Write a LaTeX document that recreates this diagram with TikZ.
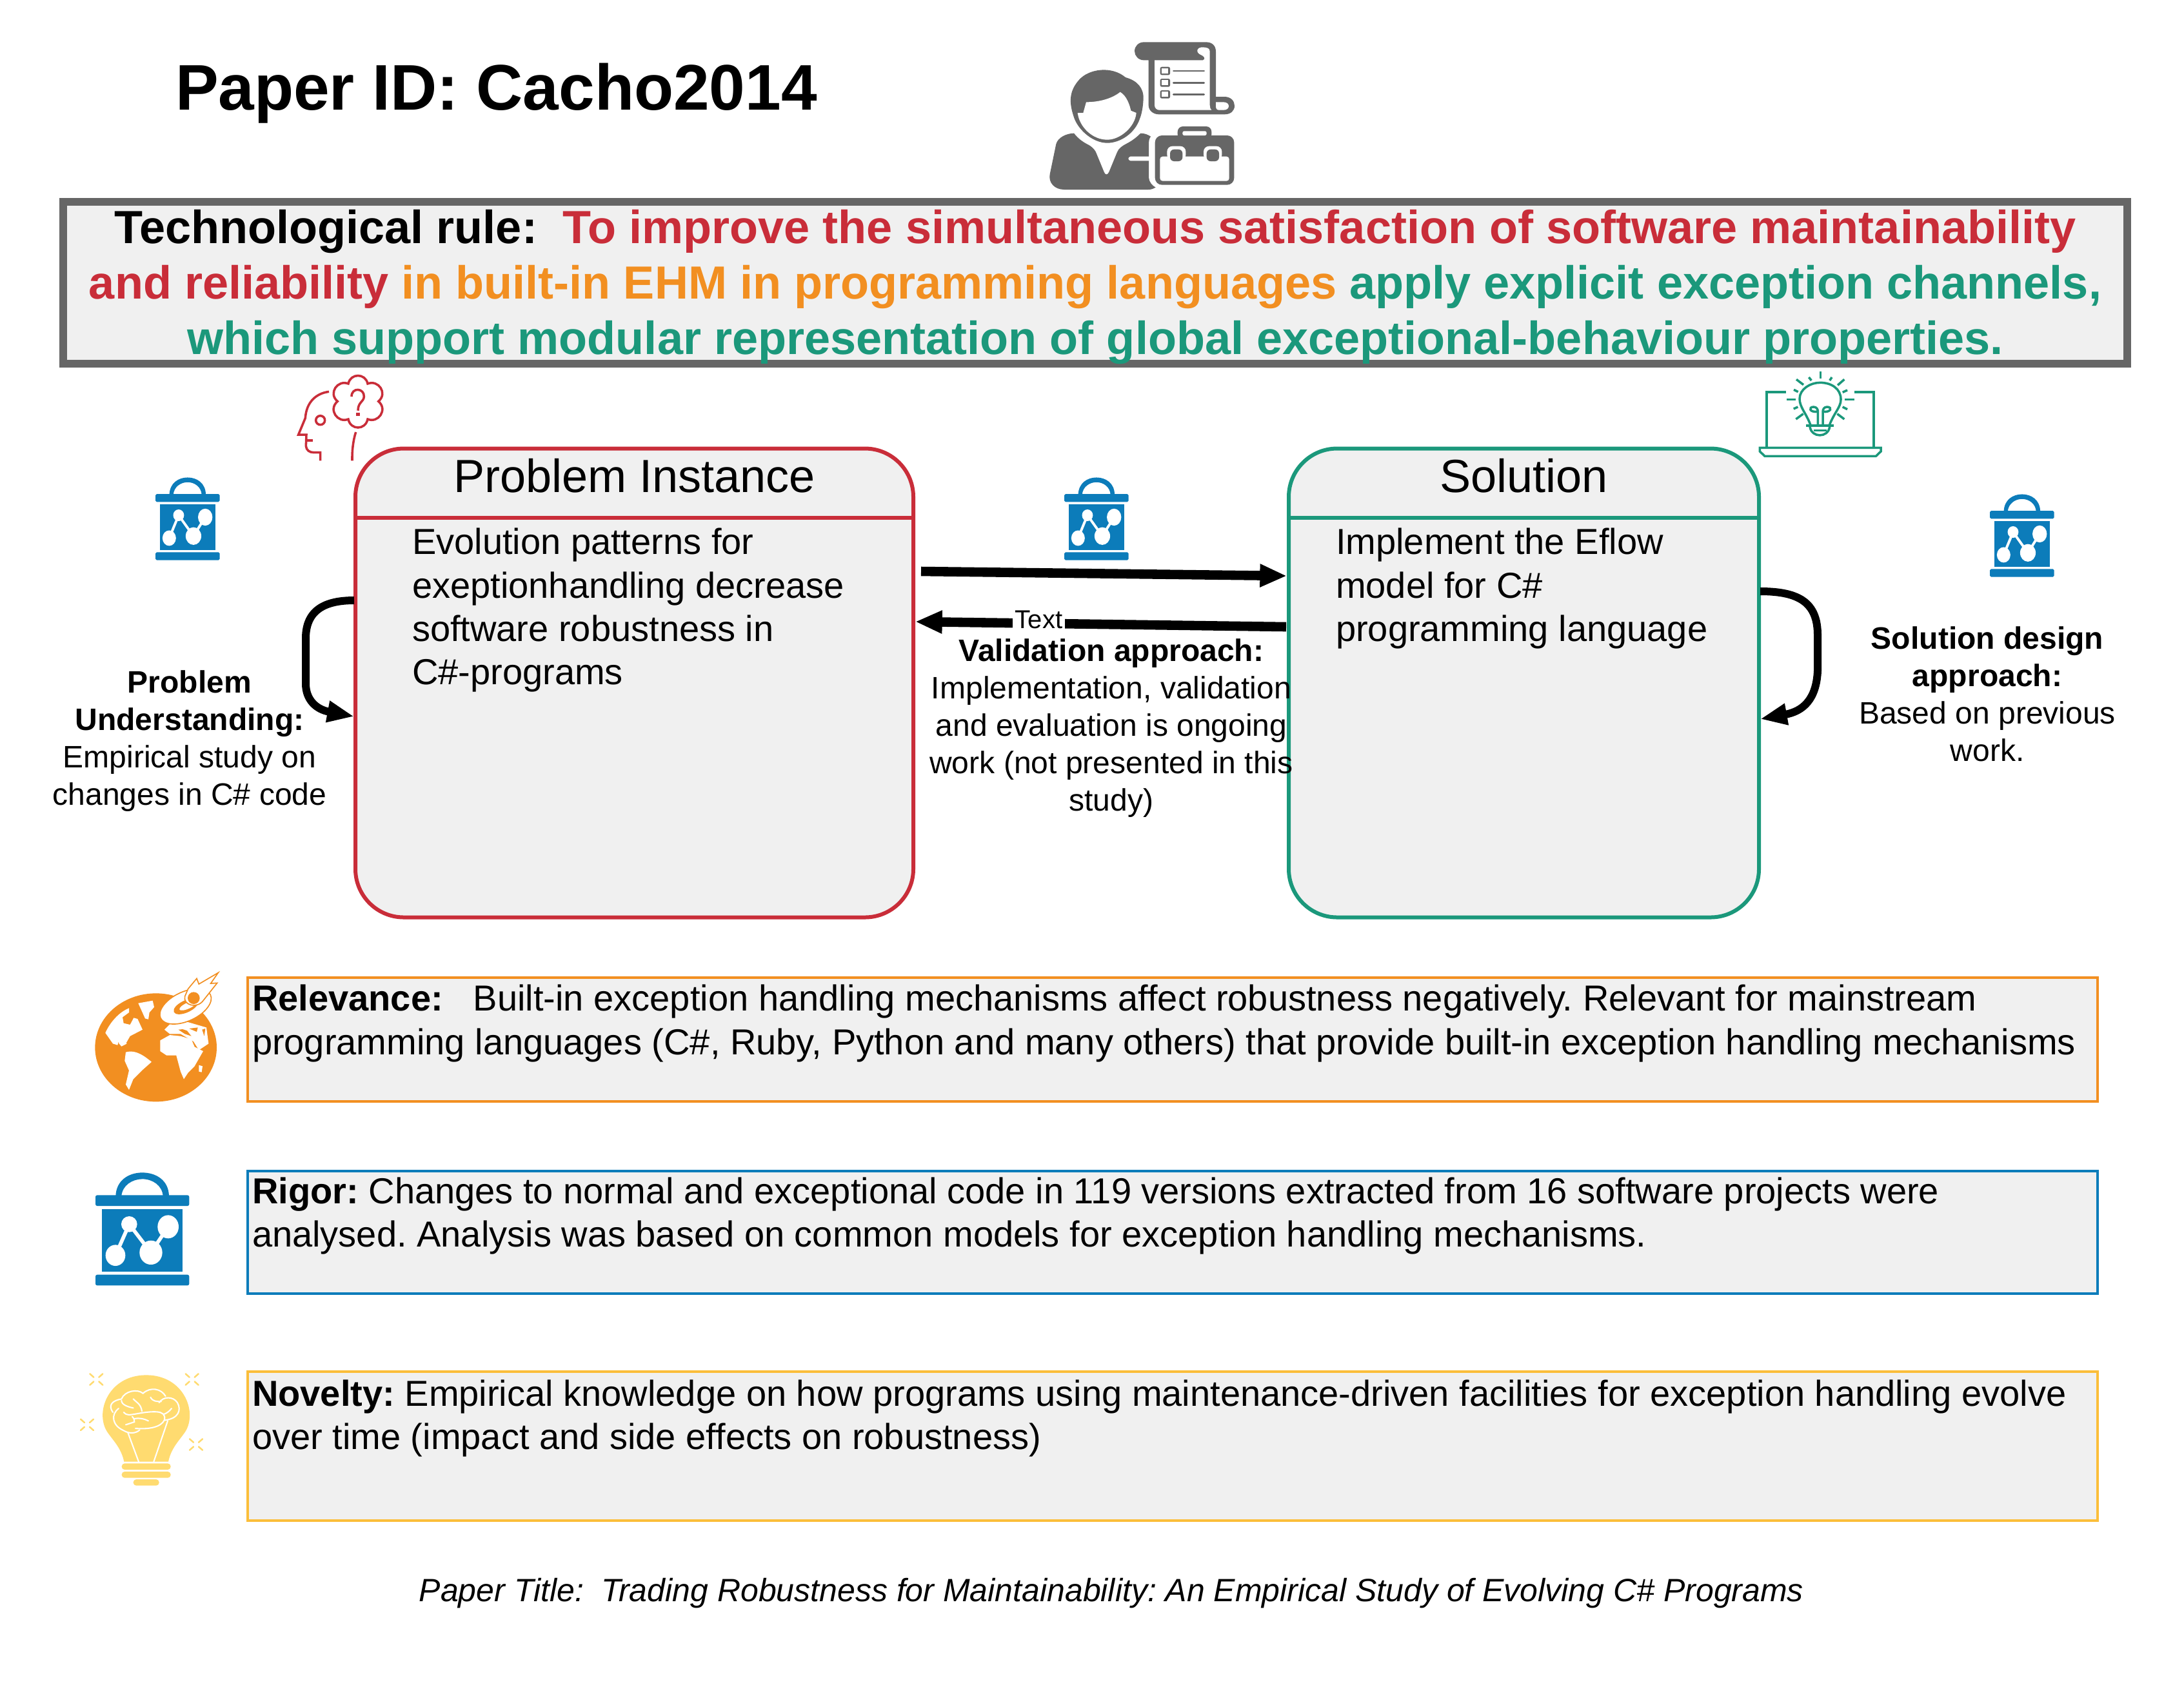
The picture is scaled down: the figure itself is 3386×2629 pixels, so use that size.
\documentclass[tikz,border=0pt]{standalone}
\usepackage{fontspec}
\setmainfont{Liberation Sans}
\usetikzlibrary{arrows.meta}
\frenchspacing
\definecolor{cgray}{HTML}{666666}
\definecolor{cfill}{HTML}{F0F0F0}
\definecolor{cred}{HTML}{C92D39}
\definecolor{cgreen}{HTML}{1B987B}
\definecolor{corange}{HTML}{F28F21}
\definecolor{cblue}{HTML}{0C7CBA}
\definecolor{cgold}{HTML}{FBBE3A}
\definecolor{cyel}{HTML}{FFDB70}
\newcommand{\fsTitle}{\fontsize{24}{27.6}\selectfont}
\newcommand{\fsRule}{\fontsize{17.3}{20.74}\selectfont}
\newcommand{\fsHead}{\fontsize{17.3}{20}\selectfont}
\newcommand{\fsBody}{\fontsize{13.45}{16.1}\selectfont}
\newcommand{\fsLab}{\fontsize{11.53}{13.92}\selectfont}
\newcommand{\fsTiny}{\fontsize{9.6}{11}\selectfont}
\newcommand{\fsPaper}{\fontsize{12}{14}\selectfont}
% research icon: #1,#2 = top-left of the zoom frame, #3,#4 = pt per unit
\newcommand{\researchicon}[4]{%
\begin{scope}[shift={(#1,#2)},x=#3pt,y=-#4pt]
\fill[cblue,rounded corners=8*#3pt] (84,160) rectangle (520,210);
\fill[cblue,rounded corners=8*#3pt] (84,530) rectangle (520,580);
\fill[cblue] (178,165) .. controls (180,90) and (240,55) .. (302,55) .. controls (365,55) and (425,90) .. (426,165) -- (398,165) .. controls (395,115) and (350,85) .. (302,85) .. controls (255,85) and (208,115) .. (205,165) -- cycle;
\fill[cblue] (113,226) rectangle (490,517);
\draw[white,line width=17*#3pt] (177,440) -- (241,295) -- (342,427) -- (422,307);
\fill[white] (177,440) ellipse [x radius=46,y radius=49];
\fill[white] (241,295) ellipse [x radius=37,y radius=37];
\fill[white] (342,427) ellipse [x radius=53,y radius=56];
\fill[white] (422,307) ellipse [x radius=49,y radius=54];
\end{scope}}
\tikzset{
  rulebox/.style={draw=cgray,fill=cfill,line width=2.88pt,minimum width=3200*0.24pt,minimum height=251*0.24pt,inner sep=0pt},
  instbox/.style={fill=cfill,line width=1.44pt,rounded corners=18pt,minimum height=727*0.24pt,inner sep=0pt},
  notebox/.style={fill=cfill,line width=1pt,minimum width=2868*0.24pt,inner sep=0pt},
  txt/.style={inner sep=0pt,outer sep=0pt,text=black},
  bodyL/.style={txt,anchor=north west,align=left,font=\fsBody},
  labC/.style={txt,anchor=north,align=center,font=\fsLab},
  bigarrow/.style={line width=3.5pt,-{Triangle[length=10pt,width=8pt]}},
  looparrow/.style={line width=2.88pt,-{Triangle[length=10pt,width=7.5pt]}},
  iconline/.style={line width=0.85pt},
}
\begin{document}
\begin{tikzpicture}[x=0.24pt,y=-0.24pt]
\fill[white,use as bounding box] (0,0) rectangle (3386,2629);

\node[txt,anchor=base west,font=\fsTitle\bfseries] (title) at (272,170) {Paper ID: Cacho2014};

% person icon
\begin{scope}[shift={(1560,40)},x=0.08pt,y=-0.08pt]
\fill[cgray] (640,76) -- (930,76) .. controls (960,76) and (975,95) .. (975,120) -- (975,330) -- (1015,330) .. controls (1045,330) and (1062,350) .. (1062,372) .. controls (1062,395) and (1045,412) .. (1015,412) -- (710,412) .. controls (685,412) and (662,395) .. (662,370) -- (662,160) -- (640,160) .. controls (615,160) and (597,140) .. (597,118) .. controls (597,95) and (615,76) .. (640,76) -- cycle;
\fill[white] (690,160) -- (915,160) .. controls (930,155) and (920,140) .. (905,135) .. controls (880,125) and (885,98) .. (915,100) .. controls (935,100) and (947,105) .. (947,120) -- (947,370) .. controls (947,380) and (950,388) .. (955,392) -- (712,392) .. controls (700,392) and (690,382) .. (690,370) -- cycle;
\fill[white] (975,355) -- (1010,355) .. controls (1025,355) and (1035,363) .. (1035,373) .. controls (1035,385) and (1025,392) .. (1010,392) -- (990,392) .. controls (980,392) and (975,385) .. (975,375) -- cycle;
\foreach \yy in {210,265,319}{
  \fill[cgray,rounded corners=0.6pt] (716,\yy-19) rectangle (762,\yy+19);
  \fill[white] (724,\yy-12) rectangle (752,\yy+12);
  \draw[cgray,line width=0.7pt,line cap=round] (778,\yy) -- (920,\yy);
}
\fill[cgray] (315,500) .. controls (335,525) and (355,540) .. (385,555) .. controls (405,568) and (415,580) .. (420,595) -- (455,680) .. controls (460,695) and (472,695) .. (478,680) -- (515,590) .. controls (522,570) and (540,558) .. (560,548) .. controls (585,535) and (605,520) .. (625,500) .. controls (645,500) and (660,507) .. (672,515) .. controls (665,525) and (663,535) .. (663,545) -- (663,608) -- (577,608) .. controls (565,610) and (565,626) .. (577,628) -- (663,628) -- (663,705) .. controls (663,725) and (680,745) .. (695,752) .. controls (685,758) and (675,762) .. (660,762) -- (270,762) .. controls (225,762) and (195,730) .. (203,690) -- (232,550) .. controls (240,520) and (280,500) .. (315,500) -- cycle;
\fill[cgray] (470,545) .. controls (400,545) and (330,480) .. (313,420) .. controls (290,350) and (295,300) .. (340,250) .. controls (385,200) and (490,185) .. (555,240) .. controls (610,255) and (640,290) .. (638,340) .. controls (636,380) and (630,410) .. (622,430) .. controls (600,500) and (530,545) .. (470,545) -- cycle;
\fill[white] (332,405) -- (358,405) -- (372,355) .. controls (430,355) and (490,340) .. (530,308) .. controls (560,325) and (575,370) .. (580,395) -- (605,405) .. controls (600,470) and (530,530) .. (470,530) .. controls (400,530) and (340,470) .. (332,405) -- cycle;
\fill[cgray,rounded corners=2.6pt] (692,510) rectangle (1060,740);
\fill[cgray,rounded corners=2pt] (797,468) rectangle (955,530);
\fill[white,rounded corners=0.6pt] (820,490) rectangle (932,510);
\fill[white,rounded corners=1pt] (715,608) -- (1037,608) -- (1037,722) -- (715,722) -- cycle;
\fill[white,rounded corners=2pt] (748,560) rectangle (835,625);
\fill[white,rounded corners=2pt] (918,560) rectangle (1003,625);
\fill[cgray,rounded corners=1.5pt] (762,575) rectangle (820,630);
\fill[cgray,rounded corners=1.5pt] (932,575) rectangle (990,630);
\end{scope}

% technological rule
\node[rulebox] (rule) at (1698,438.5) {};
\node[txt,anchor=north,align=center,font=\fsRule\bfseries] (ruletext) at (1698,316.5)
 {\strut Technological rule:\hspace{0.55em}\textcolor{cred}{To improve the simultaneous satisfaction of software maintainability}\\
  \strut\textcolor{cred}{and reliability} \textcolor{corange}{in built-in EHM in programming languages} \textcolor{cgreen}{apply explicit exception channels,}\\
  \strut\textcolor{cgreen}{which support modular representation of global exceptional-behaviour properties.}};

% thinker icon
\begin{scope}[shift={(420,560)},x=0.08pt,y=-0.08pt,draw=cred,iconline]
\draw (270,142) .. controls (210,150) and (165,190) .. (160,265) -- (128,342) -- (165,342) -- (163,395) .. controls (165,415) and (180,425) .. (200,425) -- (230,425) -- (230,463);
\draw (165,369) -- (195,369);
\draw (230,275) circle [radius=21];
\draw (395,330) .. controls (382,370) and (377,420) .. (378,463);
\draw (360,105) .. controls (370,55) and (440,55) .. (450,105) .. controls (500,85) and (545,150) .. (500,187) .. controls (545,225) and (500,290) .. (450,270) .. controls (440,322) and (370,322) .. (360,270) .. controls (310,290) and (265,225) .. (310,187) .. controls (265,150) and (310,85) .. (360,105) -- cycle;
\draw (375,165) .. controls (375,120) and (435,125) .. (433,165) .. controls (432,190) and (405,190) .. (405,230);
\fill[cred] (397,240) rectangle (413,255);
\end{scope}

% bulb laptop icon
\begin{scope}[shift={(2700,560)},x=0.08pt,y=-0.08pt,draw=cgreen,iconline]
\draw (207,144) -- (117,144) -- (117,403);
\draw (525,144) -- (615,144) -- (615,403);
\draw (85,403) -- (648,403) -- (648,420) -- (625,442) -- (108,442) -- (85,420) -- cycle;
\draw (322,300) .. controls (300,240) and (270,215) .. (270,175) .. controls (270,130) and (320,100) .. (365,100) .. controls (420,100) and (462,130) .. (462,178) .. controls (462,215) and (430,240) .. (408,300);
\draw (300,300) -- (428,300);
\draw (318,305) .. controls (325,358) and (403,358) .. (410,305);
\draw (335,322) -- (395,322);
\draw (355,300) -- (355,235) .. controls (315,240) and (310,213) .. (335,213) .. controls (350,213) and (355,225) .. (355,235);
\draw (378,300) -- (378,235) .. controls (418,240) and (423,213) .. (398,213) .. controls (383,213) and (378,225) .. (378,235);
\foreach \xa/\ya/\xb/\yb in {367/48/367/82,255/85/288/110,478/85/447/112,313/75/325/90,420/75/410/90,243/133/263/143,492/135/470/145,210/178/252/178,480/178/524/178,242/222/262/213,492/224/470/213,253/270/287/245,478/270/445/245}
  \draw (\xa,\ya) -- (\xb,\yb);
\end{scope}

% problem and solution boxes
\node[instbox,draw=cred,minimum width=865*0.24pt] (prob) at (983.5,1059) {};
\node[instbox,draw=cgreen,minimum width=729*0.24pt] (sol) at (2362.5,1059) {};
\draw[cred,line width=1.44pt] (prob.west |- 0,803) -- (prob.east |- 0,803);
\draw[cgreen,line width=1.44pt] (sol.west |- 0,803) -- (sol.east |- 0,803);
\node[txt,font=\fsHead] (probhead) at (prob.north |- 0,738) {Problem Instance};
\node[txt,font=\fsHead] (solhead) at (sol.north |- 0,738) {Solution};
\node[bodyL] (probtext) at (639,813) {\strut Evolution patterns for\\\strut exeptionhandling decrease\\\strut software robustness in\\\strut C\#-programs};
\node[bodyL] (soltext) at (2071,813) {\strut Implement the Eflow\\\strut model for C\#\\\strut programming language};

% research icons
\researchicon{222}{727}{0.0547}{0.0586}
\researchicon{1631}{727}{0.0547}{0.0586}
\researchicon{3066}{753}{0.0547}{0.0586}
\researchicon{120}{1800}{0.08}{0.08}

% connectors
\coordinate (a1s) at (1428,886);
\coordinate (a1e) at (1995,893);
\coordinate (a2s) at (1994,972);
\coordinate (a2e) at (1419,964);
\draw[bigarrow] (a1s) -- (a1e);
\draw[bigarrow] (a2s) -- node[pos=0.667,yshift=1.4pt,fill=white,inner sep=1pt,font=\fsTiny,text=black] (texttag) {Text} (a2e);
\coordinate (l1s) at (549,931);
\coordinate (l1e) at (549,1111);
\coordinate (l2s) at (2729,917);
\coordinate (l2e) at (2729,1115);
\draw[looparrow] (l1s) .. controls (505,931) and (474,945) .. (474,990) -- (474,1060) .. controls (474,1085) and (490,1100) .. (l1e);
\draw[looparrow] (l2s) .. controls (2790,917) and (2818,935) .. (2818,985) -- (2818,1040) .. controls (2816,1085) and (2795,1103) .. (l2e);

% labels
\node[labC] (probund) at (294,1034) {\strut\textbf{Problem}\\\strut\textbf{Understanding:}\\\strut Empirical study on\\\strut changes in C\# code};
\node[labC] (valid) at (1723,985) {\strut\textbf{Validation approach:}\\\strut Implementation, validation\\\strut and evaluation is ongoing\\\strut work (not presented in this\\\strut study)};
\node[labC] (soldes) at (3081,966) {\strut\textbf{Solution design}\\\strut\textbf{approach:}\\\strut Based on previous\\\strut work.};

% notes
\node[notebox,draw=corange,minimum height=192*0.24pt] (rel) at (1818,1612) {};
\node[notebox,draw=cblue,minimum height=190*0.24pt] (rig) at (1818,1911) {};
\node[notebox,draw=cgold,minimum height=231*0.24pt] (nov) at (1818,2242.5) {};
\node[bodyL] (reltext) at (391,1521) {\strut\textbf{Relevance:}\hspace{0.836em}Built-in exception handling mechanisms affect robustness negatively. Relevant for mainstream\\\strut programming languages (C\#, Ruby, Python and many others) that provide built-in exception handling mechanisms};
\node[bodyL] (rigtext) at (391,1819) {\strut\textbf{Rigor:} Changes to normal and exceptional code in 119 versions extracted from 16 software projects were\\\strut analysed. Analysis was based on common models for exception handling mechanisms.};
\node[bodyL] (novtext) at (391,2133) {\strut\textbf{Novelty:} Empirical knowledge on how programs using maintenance-driven facilities for exception handling evolve\\\strut over time (impact and side effects on robustness)};

% globe icon
\begin{scope}[shift={(120,1490)},x=0.08pt,y=-0.08pt]
\fill[corange] (365,403) ellipse [x radius=283,y radius=252];
\fill[white] (130,335) .. controls (150,290) and (190,240) .. (240,220) -- (240,240) -- (210,262) -- (215,290) -- (245,297) -- (262,265) -- (280,270) -- (303,320) -- (245,350) -- (225,385) -- (190,378) -- (187,392) -- (165,385) -- cycle;
\fill[white] (283,197) -- (350,185) -- (357,215) -- (335,240) -- (330,272) -- (315,268) -- cycle;
\fill[white] (190,380) -- (215,372) -- (230,385) -- (205,398) -- cycle;
\fill[white] (225,425) .. controls (275,410) and (320,450) .. (345,470) -- (300,510) -- (260,550) -- (240,600) -- (225,575) -- (240,510) -- (220,465) -- cycle;
\fill[white] (385,370) -- (430,345) -- (480,350) -- (530,365) -- (545,400) -- (585,420) -- (545,490) -- (515,520) -- (495,550) -- (480,515) -- (460,440) -- (415,440) -- (385,420) -- cycle;
\fill[white] (405,320) -- (440,285) -- (480,275) -- (600,310) -- (610,385) -- (565,415) -- (540,375) -- (480,340) -- (430,340) -- cycle;
\fill[corange] (470,320) -- (500,340) -- (530,350) -- (510,325) -- (490,318) -- cycle;
\fill[corange] (520,315) -- (560,310) -- (555,330) -- cycle;
\fill[corange] (580,320) -- (595,315) -- (590,350) -- cycle;
\fill[white] (565,485) -- (582,490) -- (578,518) -- (565,515) -- cycle;
\fill[white] (403,255) -- (420,235) -- (432,262) -- (415,260) -- cycle;
\draw[corange,line width=0.4pt,fill=white,rotate around={25:(503,212)}] (503,212) ellipse [x radius=128,y radius=68];
\fill[corange,rotate around={25:(505,212)}] (505,212) ellipse [x radius=62,y radius=28];
\fill[white,rotate around={25:(515,208)}] (515,208) ellipse [x radius=44,y radius=14];
\draw[corange,line width=0.4pt,fill=white] (515,130) -- (555,82) -- (565,108) -- (655,55) -- (620,105) -- (650,103) -- (585,185) .. controls (555,225) and (490,205) .. (500,165) -- cycle;
\fill[corange] (541,173) circle [radius=28];
\end{scope}

% brain bulb icon
\begin{scope}[shift={(110,2110)},x=0.08pt,y=-0.08pt]
\fill[cyel] (247,470) .. controls (235,410) and (200,375) .. (175,340) .. controls (105,250) and (170,67) .. (350,67) .. controls (530,67) and (595,250) .. (525,340) .. controls (500,375) and (465,410) .. (453,470) -- cycle;
\fill[cyel,rounded corners=1.1pt] (236,478) rectangle (464,507);
\fill[cyel,rounded corners=1.1pt] (236,516) rectangle (464,545);
\fill[cyel,rounded corners=1.1pt] (290,552) rectangle (410,581);
\foreach \cx/\cy in {118/87,563/87,75/298,582/390}{
  \draw[cyel,line width=0.6pt,line cap=round] (\cx-30,\cy-26) -- (\cx-12,\cy-10);
  \draw[cyel,line width=0.6pt,line cap=round] (\cx+30,\cy-26) -- (\cx+12,\cy-10);
  \draw[cyel,line width=0.6pt,line cap=round] (\cx-30,\cy+26) -- (\cx-12,\cy+10);
  \draw[cyel,line width=0.6pt,line cap=round] (\cx+30,\cy+26) -- (\cx+12,\cy+10);
}
\begin{scope}[draw=white,line width=0.5pt,line cap=round]
\draw (265,335) -- (315,470);
\draw (450,280) -- (385,470);
\draw (195,240) .. controls (170,205) and (195,185) .. (235,178) .. controls (250,140) and (310,130) .. (335,152) .. controls (370,120) and (420,130) .. (440,165);
\draw (410,195) .. controls (430,165) and (475,165) .. (495,195) .. controls (515,230) and (500,270) .. (435,277);
\draw (222,222) .. controls (185,250) and (190,300) .. (245,325) .. controls (270,340) and (300,340) .. (320,322);
\draw (300,315) .. controls (360,320) and (420,310) .. (435,275) .. controls (440,250) and (425,240) .. (400,238) .. controls (350,235) and (300,250) .. (270,252) .. controls (260,252) and (250,247) .. (245,240);
\draw (285,260) .. controls (295,270) and (295,280) .. (295,285) -- (255,298);
\draw (295,270) .. controls (320,265) and (340,270) .. (360,280);
\draw (235,185) .. controls (235,205) and (265,215) .. (290,220);
\draw (290,178) .. controls (305,195) and (325,200) .. (330,235);
\draw (370,170) .. controls (380,190) and (400,190) .. (420,190);
\draw (430,250) .. controls (445,245) and (458,235) .. (468,222);
\end{scope}
\end{scope}

\node[txt,anchor=base,font=\fsPaper\itshape] (papertitle) at (1723,2483) {Paper Title:\hspace{0.55em}Trading Robustness for Maintainability: An Empirical Study of Evolving C\# Programs};
\end{tikzpicture}
\end{document}
